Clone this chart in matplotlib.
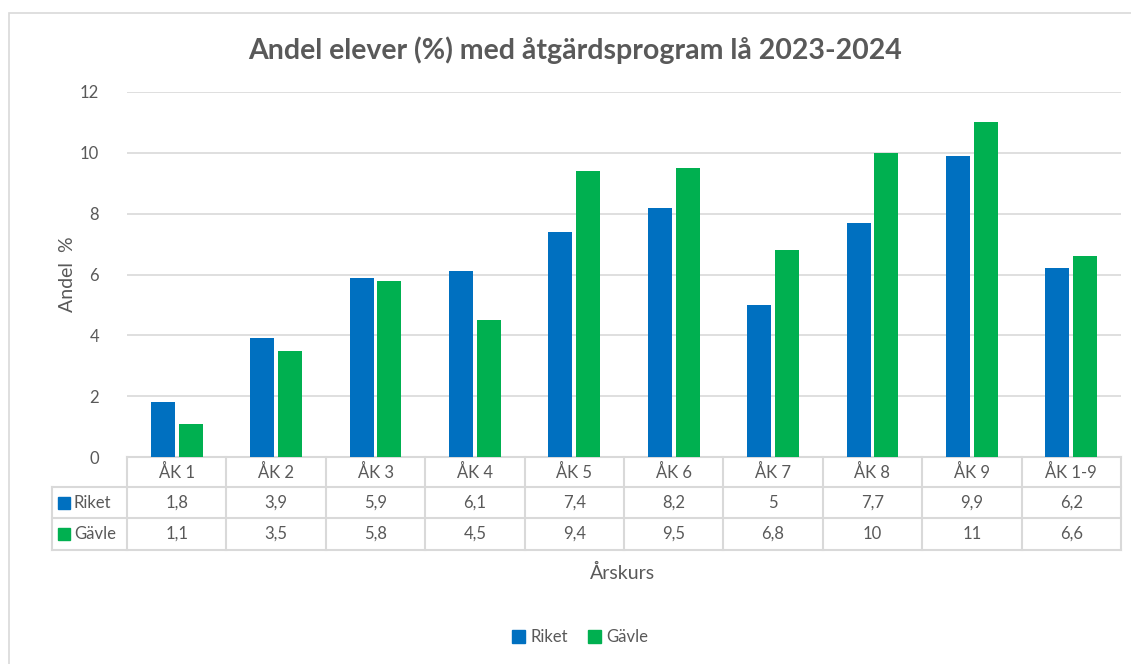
import matplotlib.pyplot as plt
import matplotlib.transforms as mtransforms
from matplotlib.patches import Rectangle
import numpy as np

plt.rcParams['font.family'] = ['Lato', 'DejaVu Sans']

categories = ["ÅK 1", "ÅK 2", "ÅK 3", "ÅK 4", "ÅK 5", "ÅK 6", "ÅK 7", "ÅK 8", "ÅK 9", "ÅK 1-9"]
riket = [1.8, 3.9, 5.9, 6.1, 7.4, 8.2, 5, 7.7, 9.9, 6.2]
gavle = [1.1, 3.5, 5.8, 4.5, 9.4, 9.5, 6.8, 10, 11, 6.6]
series_names = ["Riket", "Gävle"]
yticks = [0, 2, 4, 6, 8, 10, 12]

BLUE = "#0070C0"
GREEN = "#00B050"
TEXT = "#595959"
GRID = "#D9D9D9"

W, H = 1131, 664
fig = plt.figure(figsize=(W / 100, H / 100), dpi=100)

# chart border
fig.patches.append(Rectangle((9 / W, -0.05), 1.1, (H - 13) / H + 0.05, transform=fig.transFigure,
                             fill=False, edgecolor=GRID, linewidth=1.2))

left, right, top, bottom = 127, 1121, 92, 457
ax = fig.add_axes([left / W, 1 - bottom / H, (right - left) / W, (bottom - top) / H])

x = np.arange(len(categories))
bw = 0.24
ax.bar(x - 0.14, riket, bw, color=BLUE, zorder=3)
ax.bar(x + 0.14, gavle, bw, color=GREEN, zorder=3)

ax.set_xlim(-0.5, len(categories) - 0.5)
ax.set_ylim(0, 12)
ax.set_yticks(yticks)
ax.set_yticklabels([str(t) for t in yticks])
ax.tick_params(axis='y', length=0, pad=20, labelsize=12, labelcolor=TEXT)
ax.set_xticks([])
ax.grid(axis='y', color=GRID, linewidth=1.2, zorder=0)
for s in ax.spines.values():
    s.set_visible(False)

ax.set_ylabel("Andel  %", fontsize=14, color=TEXT, labelpad=3)
fig.text(575 / W, 1 - 50 / H, "Andel elever (%) med åtgärdsprogram lå 2023-2024",
         ha='center', va='center', fontsize=20.5, fontweight='bold', color=TEXT)

# data table under the axis
trans = mtransforms.blended_transform_factory(ax.transData, ax.transAxes)
px = 1 / (bottom - top)
row_edges = [0, -30 * px, -61 * px, -93 * px]
label_left = -0.5 - 75 / 99.4
n = len(categories)
lc = dict(color=GRID, linewidth=1.5, transform=trans, clip_on=False)

ax.plot([-0.5, n - 0.5], [row_edges[0]] * 2, **lc)
for y in row_edges[1:]:
    ax.plot([label_left, n - 0.5], [y, y], **lc)
for xe in np.arange(-0.5, n, 1.0):
    ax.plot([xe, xe], [row_edges[0], row_edges[3]], **lc)
ax.plot([label_left, label_left], [row_edges[1], row_edges[3]], **lc)

for i, cat in enumerate(categories):
    ax.text(i, (row_edges[0] + row_edges[1]) / 2, cat, ha='center', va='center',
            fontsize=12, color=TEXT, transform=trans, clip_on=False)
for r, (vals, name, col) in enumerate(zip([riket, gavle], series_names, [BLUE, GREEN])):
    yc = (row_edges[r + 1] + row_edges[r + 2]) / 2
    for i, v in enumerate(vals):
        ax.text(i, yc, f"{v:g}".replace(".", ","), ha='center', va='center',
                fontsize=12, color=TEXT, transform=trans, clip_on=False)
    ax.text(label_left + 22 / 99.4, yc, name, ha='left', va='center',
            fontsize=12, color=TEXT, transform=trans, clip_on=False)
    ax.add_patch(Rectangle((label_left + 6 / 99.4, yc - 6 * px), 12 / 99.4, 12 * px,
                           color=col, transform=trans, clip_on=False))

fig.text(622 / W, 1 - 573 / H, "Årskurs", ha='center', va='center', fontsize=14, color=TEXT)

# legend
handles = [Rectangle((0, 0), 1, 1, color=BLUE), Rectangle((0, 0), 1, 1, color=GREEN)]
fig.legend(handles, series_names, loc='center', bbox_to_anchor=(580 / W, 1 - 637 / H), ncol=2,
           frameon=False, fontsize=12, labelcolor=TEXT, handlelength=0.8, handleheight=0.8,
           handletextpad=0.3, columnspacing=1.2)

fig.savefig("out.png", dpi=100)
